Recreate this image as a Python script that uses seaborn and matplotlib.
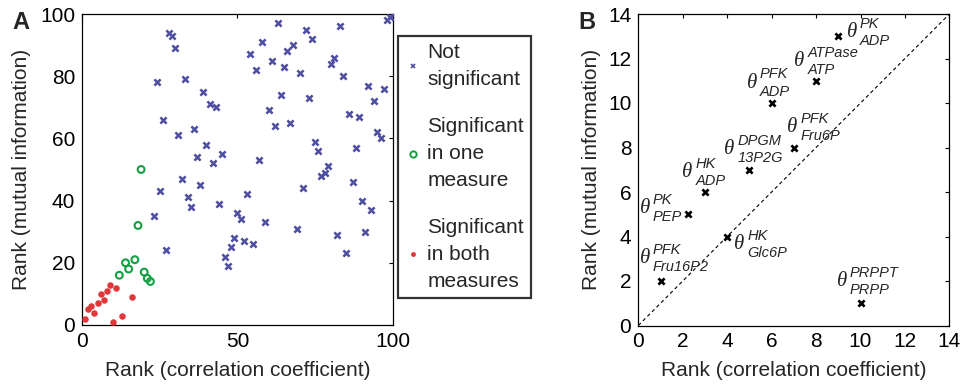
import numpy as np
import pandas as pd
import matplotlib
matplotlib.use("Agg")
import matplotlib.pyplot as plt
from matplotlib.lines import Line2D
import seaborn as sns

# ---------------- data ----------------
# Panel A: ranks of each parameter
ns_x = [28, 29, 30, 24, 33, 39, 41, 43, 26, 36, 31, 40, 37, 45, 42, 54, 56, 57,
        63, 72, 83, 58, 61, 66, 68, 74, 65, 70, 81, 80, 84, 98, 99, 100, 92, 97,
        94, 64, 73, 60, 62, 67, 86, 89, 95, 96, 75, 76, 88, 79, 32, 38, 25, 34,
        35, 44, 53, 50, 51, 23, 27, 49, 48, 52, 55, 46, 47, 78, 77, 71, 87, 90,
        93, 91, 85, 82, 69, 59]
ns_y = [94, 93, 89, 78, 79, 75, 71, 70, 66, 63, 61, 58, 54, 55, 52, 87, 82, 53,
        97, 95, 96, 91, 85, 88, 90, 92, 83, 81, 86, 84, 80, 98, 99, 100, 77, 76,
        72, 74, 73, 69, 64, 65, 68, 67, 62, 60, 59, 56, 57, 51, 47, 45, 43, 41,
        38, 39, 42, 36, 34, 35, 24, 28, 25, 27, 26, 22, 19, 49, 48, 44, 46, 40,
        37, 30, 23, 29, 31, 33]
one_x = [19, 18, 14, 17, 15, 12, 20, 21, 22]
one_y = [50, 32, 20, 21, 18, 16, 17, 15, 14]
both_x = [1, 2, 3, 4, 5, 7, 6, 8, 9, 11, 16, 13, 10]
both_y = [2, 5, 6, 4, 7, 8, 10, 11, 13, 12, 9, 3, 1]
legend_labels = ["Not\nsignificant", "Significant\nin one\nmeasure",
                 "Significant\nin both\nmeasures"]

# Panel B: top parameters
b_x = [9, 8, 6, 7, 5, 3, 2.25, 4, 1, 10]
b_y = [13, 11, 10, 8, 7, 6, 5, 4, 2, 1]
b_enzyme = ["PK", "ATPase", "PFK", "PFK", "DPGM", "HK", "PK", "HK", "PFK", "PRPPT"]
b_metab = ["ADP", "ATP", "ADP", "Fru6P", "13P2G", "ADP", "PEP", "Glc6P", "Fru16P2", "PRPP"]

a_xticks = [0, 50, 100]
a_yticks = [0, 20, 40, 60, 80, 100]
b_ticks = [0, 2, 4, 6, 8, 10, 12, 14]

# ---------------- style ----------------
sns.set_style("white")
plt.rcParams["font.family"] = ["Liberation Sans", "DejaVu Sans"]
plt.rcParams["font.size"] = 15

C_NS = "#4E4EA2"
C_ONE = "#12A043"
C_BOTH = "#E0383A"

fig = plt.figure(figsize=(9.61, 3.87), dpi=100)
W, H = 961, 387
axA = fig.add_axes([82 / W, (H - 325) / H, 311 / W, 311 / H])
axB = fig.add_axes([638.3 / W, (H - 325.5) / H, 311.1 / W, 311.5 / H])

# ---------------- panel A ----------------
sns.scatterplot(x=ns_x, y=ns_y, ax=axA, marker="x", s=20, linewidth=1.8,
                color=C_NS, zorder=3)
sns.scatterplot(x=one_x, y=one_y, ax=axA, marker="o", s=24,
                facecolors="none", edgecolor=C_ONE, linewidth=1.5, zorder=3)
sns.scatterplot(x=both_x, y=both_y, ax=axA, marker="o", s=22,
                color=C_BOTH, linewidth=0, zorder=3)
axA.set_xlim(0, 100)
axA.set_ylim(0, 100)
axA.set_xticks(a_xticks)
axA.set_yticks(a_yticks)
axA.set_xlabel("Rank (correlation coefficient)")
axA.set_ylabel("Rank (mutual information)")
axA.xaxis.set_label_coords(0.5, -0.115)
axA.yaxis.set_label_coords(-0.164, 0.5)

handles = [
    Line2D([], [], ls="none", marker="x", ms=3, mew=1.2, color=C_NS),
    Line2D([], [], ls="none", marker="o", ms=4.5, mew=1.4, mfc="none", mec=C_ONE),
    Line2D([], [], ls="none", marker="o", ms=3.5, mew=0, color=C_BOTH),
]
leg = axA.legend(handles, legend_labels, loc="upper left",
                 bbox_to_anchor=(398 / W, 1 - 36 / H), bbox_transform=fig.transFigure,
                 frameon=True, fancybox=False, edgecolor="black", fontsize=15,
                 borderpad=0.35, handlelength=0.7, handletextpad=0.35,
                 labelspacing=1.35, borderaxespad=0)
leg.get_frame().set_linewidth(1.6)
for t in leg.get_texts():
    t.set_linespacing(1.52)

# ---------------- panel B ----------------
sns.scatterplot(x=b_x, y=b_y, ax=axB, marker="x", s=20, linewidth=1.9,
                color="black", zorder=3)
axB.plot(b_ticks[::len(b_ticks) - 1], b_ticks[::len(b_ticks) - 1],
         ls=(0, (3.2, 2.6)), lw=0.8, color="black")
axB.set_xlim(0, 14)
axB.set_ylim(0, 14)
axB.set_xticks(b_ticks)
axB.set_yticks(b_ticks)
axB.set_xlabel("Rank (correlation coefficient)")
axB.set_ylabel("Rank (mutual information)")
axB.xaxis.set_label_coords(0.5, -0.115)
axB.yaxis.set_label_coords(-0.12, 0.5)

# label offsets (pixels, y up) of theta centre relative to each point
lab_dx = [13.4, -16.8, -20, -1.5, -20, -17.7, -43.3, 12, -15.5, -18.8]
lab_dy = [3.8, 19, 20, 20.3, 20.2, 19.5, 5.4, -8, 22.3, 21.6]
k = 0.72
for x, y, e, m, dx, dy in zip(b_x, b_y, b_enzyme, b_metab, lab_dx, lab_dy):
    axB.annotate("\u03b8", (x, y), xytext=(dx * k, dy * k), textcoords="offset points",
                 ha="center", va="center", fontsize=15,
                 family=["Liberation Serif", "DejaVu Serif"], style="italic")
    axB.annotate(e, (x, y), xytext=((dx + 8) * k, (dy + 8.5) * k),
                 textcoords="offset points", ha="left", va="center",
                 fontsize=10.5, style="italic")
    axB.annotate(m, (x, y), xytext=((dx + 8) * k, (dy - 8.5) * k),
                 textcoords="offset points", ha="left", va="center",
                 fontsize=10.5, style="italic")

for ax in (axA, axB):
    for s in ax.spines.values():
        s.set_visible(True)
        s.set_color("black")
        s.set_linewidth(0.9)
    ax.tick_params(direction="in", length=3, width=0.8, top=True, right=True,
                   labelsize=15, pad=5, colors="black")
    ax.set_facecolor("white")

fig.text(12 / W, 1 - 29 / H, "A", fontsize=17, fontweight="bold", va="baseline")
fig.text(578 / W, 1 - 29 / H, "B", fontsize=17, fontweight="bold", va="baseline")

fig.savefig("out.png", dpi=100)
